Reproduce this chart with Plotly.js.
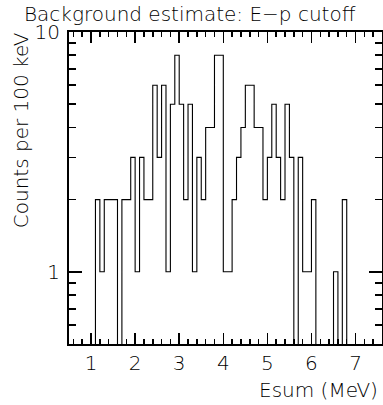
<!DOCTYPE html>
<html>
<head>
<meta charset="utf-8">
<script src="https://cdn.plot.ly/plotly-3.0.1.min.js"></script>
<style>
  html, body { margin: 0; padding: 0; background: #fff; }
  #chart { width: 383px; height: 405px; }
</style>
</head>
<body>
<div id="chart"></div>
<script>
// Bin left edges (MeV), 100 keV bins
const binLeft = [1.1,1.2,1.3,1.4,1.5,1.6,1.7,1.8,1.9,2.0,
                 2.1,2.2,2.3,2.4,2.5,2.6,2.7,2.8,2.9,3.0,
                 3.1,3.2,3.3,3.4,3.5,3.6,3.7,3.8,3.9,4.0,
                 4.1,4.2,4.3,4.4,4.5,4.6,4.7,4.8,4.9,5.0,
                 5.1,5.2,5.3,5.4,5.5,5.6,5.7,5.8,5.9,6.0,
                 6.1,6.2,6.3,6.4,6.5,6.6,6.7];
// Counts per bin
const counts = [2,1,2,2,2,0,2,2,3,1,
                3,2,2,6,3,6,1,5,8,5,
                2,5,1,3,2,4,4,8,8,1,
                1,2,3,4,6,6,4,4,2,3,
                5,3,2,5,3,0,3,1,1,2,
                0,0,0,0,1,0,2];
const binWidth = 0.1;
const xTickVals = [1,2,3,4,5,6,7];
const yTickVals = [1,10];
const yTickText = ['1','10'];
const yMinorVals = [0.6,0.7,0.8,0.9,2,3,4,5,6,7,8,9];

const titleText = 'Background estimate: E\u2212p cutoff';
const xTitleText = 'Esum (MeV)';
const yTitleText = 'Counts per 100 keV';

// Build step outline (zero bins drop below the axis floor and get clipped)
const floorVal = 1e-3;
const sx = [binLeft[0]];
const sy = [floorVal];
for (let i = 0; i < binLeft.length; i++) {
  sx.push(binLeft[i]);
  sy.push(counts[i] > 0 ? counts[i] : floorVal);
}
sx.push(binLeft[binLeft.length - 1] + binWidth);
sy.push(floorVal);

const font = {family: 'DejaVu Sans', size: 20, color: '#000', weight: 300};

const trace = {
  type: 'scatter', mode: 'lines', x: sx, y: sy,
  line: {shape: 'hv', color: '#000', width: 1.1},
  hoverinfo: 'skip'
};

const layout = {
  width: 383, height: 405,
  margin: {l: 69, r: 1, t: 32, b: 61},
  paper_bgcolor: '#fff', plot_bgcolor: '#fff',
  showlegend: false,
  font: font,
  xaxis: {
    range: [0.5, 7.6], tickmode: 'array', tickvals: xTickVals,
    ticks: 'inside', ticklen: 11, tickwidth: 1.5, tickcolor: '#000',
    showline: true, linewidth: 2, linecolor: '#000', mirror: 'allticks',
    showgrid: false, zeroline: false,
    tickfont: font, ticklabelstandoff: 0,
    minor: {dtick: 0.2, tick0: 0, ticks: 'inside', ticklen: 5, tickwidth: 1.5, tickcolor: '#000', showgrid: false}
  },
  yaxis: {
    type: 'log', range: [Math.log10(0.5), 1],
    tickmode: 'array', tickvals: yTickVals, ticktext: yTickText,
    ticks: 'inside', ticklen: 13, tickwidth: 1.5, tickcolor: '#000',
    showline: true, linewidth: 2, linecolor: '#000', mirror: 'allticks',
    showgrid: false, zeroline: false,
    tickfont: font, ticklabelstandoff: 3,
    minor: {tickmode: 'array', tickvals: yMinorVals, ticks: 'inside', ticklen: 7, tickwidth: 1.5, tickcolor: '#000', showgrid: false}
  },
  annotations: [
    {text: titleText, xref: 'paper', yref: 'paper', x: 0.385, y: 1.058,
     xanchor: 'center', yanchor: 'middle', showarrow: false, font: font},
    {text: xTitleText, xref: 'paper', yref: 'paper', x: 0.994, y: -0.146,
     xanchor: 'right', yanchor: 'middle', showarrow: false, font: font},
    {text: yTitleText, xref: 'paper', yref: 'paper', x: -0.153, y: 1.006,
     xanchor: 'center', yanchor: 'top', textangle: -90, showarrow: false, font: font}
  ]
};

Plotly.newPlot('chart', [trace], layout, {staticPlot: true, displayModeBar: false});
</script>
</body>
</html>
